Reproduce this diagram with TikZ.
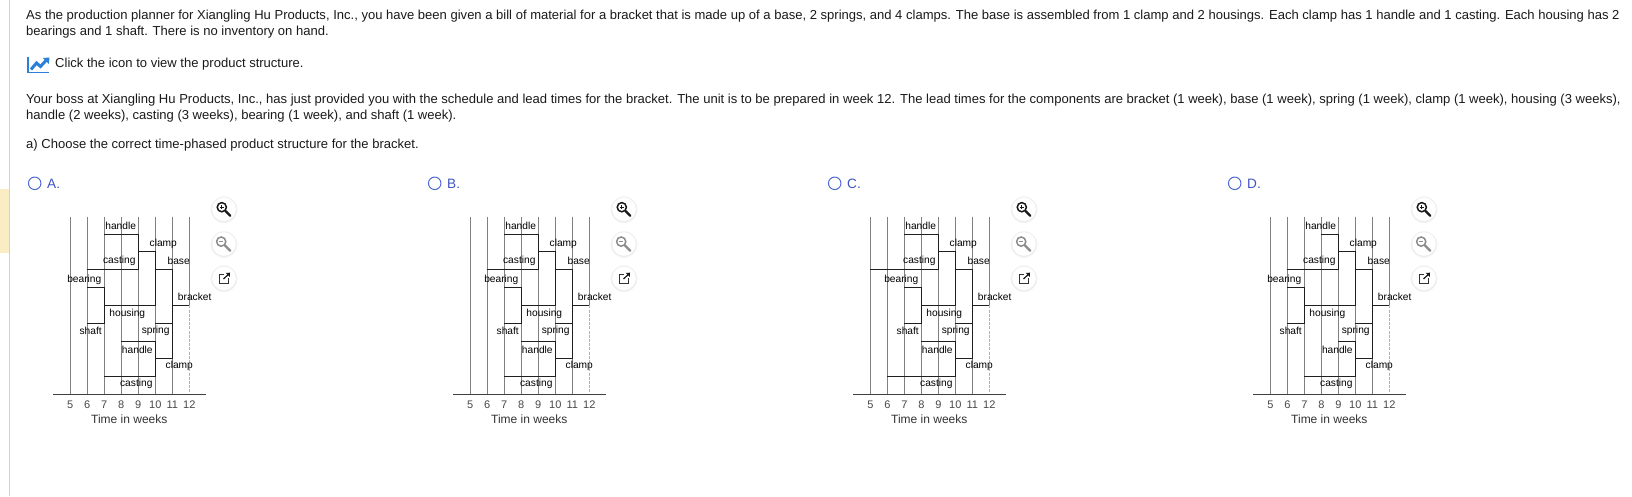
\documentclass[tikz,border=0pt]{standalone}
\usepackage{fontspec}
\setmainfont{Liberation Sans}
\definecolor{stripe}{HTML}{FAEDC4}
\definecolor{pageline}{HTML}{D0D0D8}
\definecolor{radio}{HTML}{4A6BD0}
\definecolor{optlabel}{HTML}{3F55C0}
\definecolor{iconblue}{HTML}{2A7FD8}
\definecolor{bodytext}{HTML}{1A1A1A}
\tikzset{
  x=1pt,y=1pt,
  para/.style={anchor=base west,inner sep=0pt,text=bodytext,font=\fontsize{13.03}{15}\selectfont},
  lbl/.style={inner sep=0pt,text=black,font=\fontsize{10.2}{12}\selectfont},
  tick/.style={inner sep=0pt,text=black!72,font=\fontsize{11}{13}\selectfont},
  axtitle/.style={inner sep=0pt,text=black!80,font=\fontsize{12}{14}\selectfont},
  optname/.style={anchor=base west,inner sep=0pt,text=optlabel,font=\fontsize{13.6}{15}\selectfont},
  gridl/.style={draw=black!50,line width=1pt},
  stair/.style={draw=black!88,line width=1pt},
  duedash/.style={draw=black!30,line width=1pt,dash pattern=on 3pt off 1.2pt},
  axisl/.style={draw=black!75,line width=0.9pt},
  radiob/.style={circle,draw=radio,line width=1pt,fill=white,minimum size=12.5pt,inner sep=0pt},
}
% #1 prefix, #2 x offset, #3 upper handle start, #4 upper casting start,
% #5 bearing start, #6 lower handle start, #7 lower casting start, #8 letter
\newcommand{\chart}[8]{%
  \begin{scope}[xshift=#2pt]
    \node[radiob] (#1radio) at (34.7,-183.3) {};
    \node[optname] (#1opt) at (47,-188) {#8.};
    % grid
    \foreach \w in {5,...,12}{
      \pgfmathsetmacro\xx{70.3+17*(\w-5)}
      \coordinate (#1top\w) at (\xx,-216.7);
      \coordinate (#1bot\w) at (\xx,-394.3);
      \node[tick] (#1t\w) at (\xx,-405) {\w};
    }
    \coordinate (#1g2) at (189.3,-305.3);
    \foreach \w in {5,...,11}{\draw[gridl] (#1top\w) -- (#1bot\w);}
    \draw[gridl] (#1top12) -- (#1g2);
    \draw[duedash] (#1g2) -- (#1bot12);
    \coordinate (#1axl) at (53.3,-394.3);
    \coordinate (#1axr) at (206,-394.3);
    \draw[axisl] (#1axl) -- (#1axr);
    \node[axtitle] (#1axt) at (129.3,-419.2) {Time in weeks};
    % structure
    \pgfmathsetmacro\xa{70.3+17*(#3-5)}
    \pgfmathsetmacro\xb{70.3+17*(#4-5)}
    \pgfmathsetmacro\xc{70.3+17*(#5-5)}
    \pgfmathsetmacro\xd{70.3+17*(#5-4)}
    \pgfmathsetmacro\xe{70.3+17*(#6-5)}
    \pgfmathsetmacro\xf{70.3+17*(#7-5)}
    \pgfmathsetmacro\xg{70.3+17*4}
    \pgfmathsetmacro\xh{70.3+17*5}
    \pgfmathsetmacro\xi{70.3+17*6}
    \coordinate (#1a1) at (\xa,-234);
    \coordinate (#1a2) at (\xg,-234);
    \coordinate (#1a3) at (\xg,-269.3);
    \coordinate (#1a4) at (\xb,-269.3);
    \draw[stair] (#1a1) -- (#1a2) -- (#1a3) -- (#1a4);
    \coordinate (#1b1) at (\xg,-251.7);
    \coordinate (#1b2) at (\xh,-251.7);
    \coordinate (#1b3) at (\xh,-305.3);
    \coordinate (#1b4) at (\xd,-305.3);
    \draw[stair] (#1b1) -- (#1b2) -- (#1b3) -- (#1b4);
    \coordinate (#1c1) at (\xc,-287.3);
    \coordinate (#1c2) at (\xd,-287.3);
    \coordinate (#1c3) at (\xd,-323.3);
    \coordinate (#1c4) at (\xc,-323.3);
    \draw[stair] (#1c1) -- (#1c2) -- (#1c3) -- (#1c4);
    \coordinate (#1d1) at (\xh,-269.3);
    \coordinate (#1d2) at (\xi,-269.3);
    \coordinate (#1d3) at (\xi,-358.7);
    \coordinate (#1d4) at (\xh,-358.7);
    \draw[stair] (#1d1) -- (#1d2) -- (#1d3) -- (#1d4);
    \coordinate (#1e1) at (\xh,-323.3);
    \coordinate (#1e2) at (\xi,-323.3);
    \draw[stair] (#1e1) -- (#1e2);
    \coordinate (#1f1) at (\xe,-341);
    \coordinate (#1f2) at (\xh,-341);
    \coordinate (#1f3) at (\xh,-376.3);
    \coordinate (#1f4) at (\xf,-376.3);
    \draw[stair] (#1f1) -- (#1f2) -- (#1f3) -- (#1f4);
    \coordinate (#1g1) at (\xi,-305.3);
    \draw[stair] (#1g1) -- (#1g2);
    % labels
    \node[lbl] (#1handleu) at (120.7,-226) {handle};
    \node[lbl] (#1castu) at (119.3,-261) {casting};
    \node[lbl] (#1clampu) at (163.3,-244) {clamp};
    \node[lbl] (#1base) at (178.7,-261) {base};
    \node[lbl] (#1brk) at (194.7,-297) {bracket};
    \node[lbl] (#1bear) at (\xc-3,-279.4) {bearing};
    \node[lbl] (#1hous) at (\xd+23,-313.4) {housing};
    \node[lbl] (#1shaft) at (\xc+3.4,-331) {shaft};
    \node[lbl] (#1spr) at (155.7,-331) {spring};
    \node[lbl] (#1handlel) at (137.3,-350) {handle};
    \node[lbl] (#1clampl) at (179.3,-366) {clamp};
    \node[lbl] (#1castl) at (136.3,-384) {casting};
    % zoom buttons
    \foreach \cy in {-209.3,-244,-278.3}{
      \fill[black!4] (224,\cy-0.5) circle (13.4);
      \fill[black!8] (224,\cy-0.3) circle (12.6);
      \fill[white] (224,\cy) circle (11.8);
    }
    \draw[black!90,line width=1.5] (221.8,-207.2) circle (4.6);
    \draw[black!90,line width=2.4,line cap=round] (225.4,-210.9) -- (230.2,-215.7);
    \draw[black!90,line width=0.9] (219.6,-207.2) -- (224,-207.2) (221.8,-205) -- (221.8,-209.4);
    \draw[black!45,line width=1.5] (221.2,-241.6) circle (4.6);
    \draw[black!45,line width=2.4,line cap=round] (224.8,-245.3) -- (230.2,-250.7);
    \draw[black!45,line width=0.9] (219,-241.6) -- (223.4,-241.6);
    \draw[black!80,line width=0.9] (224,-274.3) -- (219,-274.3) -- (219,-283.3) -- (228,-283.3) -- (228,-278.3);
    \draw[black!90,line width=1.2] (223.5,-279) -- (229.5,-273.3);
    \fill[black!90] (230,-272.7) -- (225.7,-272.9) -- (229.8,-277) -- cycle;
  \end{scope}
}
\begin{document}
\begin{tikzpicture}
\useasboundingbox (0,0) rectangle (1632,-496);
\fill[white] (0,0) rectangle (1632,-496);
\fill[stripe] (0,-189) rectangle (9,-253);
\draw[pageline,line width=1pt] (9.6,0) -- (9.6,-496);
\node[para] (l1) at (26,-19) {As the production planner for Xiangling Hu Products, Inc., you have been given a bill of material for a bracket that is made up of a base, 2 springs, and 4 clamps. The base is assembled from 1 clamp and 2 housings. Each clamp has 1 handle and 1 casting. Each housing has 2};
\node[para] (l2) at (26,-35) {bearings and 1 shaft. There is no inventory on hand.};
\draw[iconblue,line width=1.4] (27.8,-57) -- (27.8,-72.6) -- (49,-72.6);
\draw[iconblue,line width=3] (31,-69.5) -- (36.5,-63) -- (40.5,-66.5) -- (46,-60.5);
\fill[iconblue] (49.5,-57.5) -- (43,-58) -- (48.8,-64) -- cycle;
\node[para] (l3) at (55,-67.5) {Click the icon to view the product structure.};
\node[para] (l4) at (26,-103) {Your boss at Xiangling Hu Products, Inc., has just provided you with the schedule and lead times for the bracket. The unit is to be prepared in week 12. The lead times for the components are bracket (1 week), base (1 week), spring (1 week), clamp (1 week), housing (3 weeks),};
\node[para] (l5) at (26,-119) {handle (2 weeks), casting (3 weeks), bearing (1 week), and shaft (1 week).};
\node[para] (l6) at (26,-148) {a) Choose the correct time-phased product structure for the bracket.};
\chart{a}{0}{7}{6}{6}{8}{7}{A}
\chart{b}{400}{7}{6}{7}{8}{7}{B}
\chart{c}{800}{7}{5}{7}{8}{6}{C}
\chart{d}{1200}{8}{6}{6}{9}{7}{D}
\end{tikzpicture}
\end{document}
